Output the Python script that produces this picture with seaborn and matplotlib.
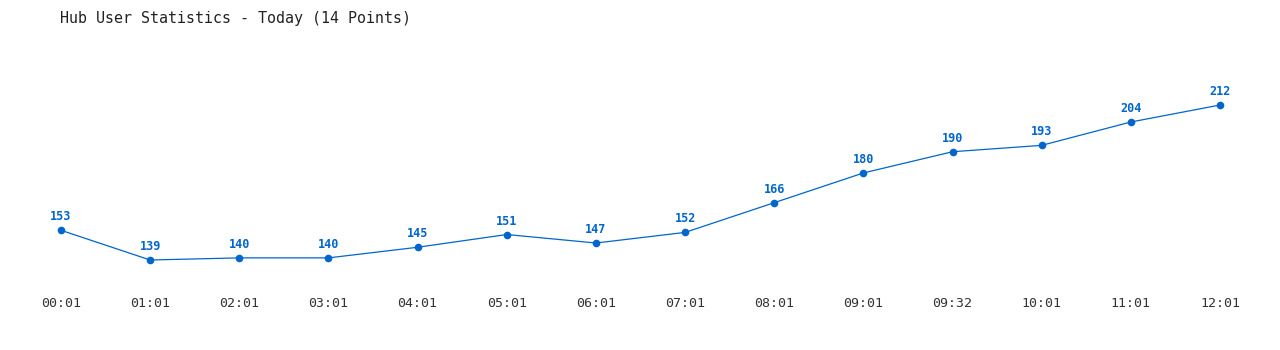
import matplotlib
matplotlib.use("Agg")
import matplotlib.pyplot as plt
import seaborn as sns
import pandas as pd

times = ["00:01", "01:01", "02:01", "03:01", "04:01", "05:01", "06:01",
         "07:01", "08:01", "09:01", "09:32", "10:01", "11:01", "12:01"]
users = [153, 139, 140, 140, 145, 151, 147, 152, 166, 180, 190, 193, 204, 212]
title = "Hub User Statistics - Today (14 Points)"

df = pd.DataFrame({"idx": range(len(times)), "users": users, "time": times})

sns.set_theme(style="white")
plt.rcParams["font.family"] = ["DejaVu Sans Mono"]

W, H = 1280, 350
fig = plt.figure(figsize=(W / 100, H / 100), dpi=100)
top_px, bot_px = 40, 290
ax = fig.add_axes([0, (H - bot_px) / H, 1, (bot_px - top_px) / H])

blue = "#0066cc"
sns.lineplot(data=df, x="idx", y="users", ax=ax, color=blue, linewidth=0.9,
             marker="o", markersize=5.5, markeredgewidth=0, markeredgecolor=blue)

step = 89.15
ax.set_xlim(-61 / step, 13 + 60 / step)
ppu = 2.123
ax.set_ylim(139 - 30 / ppu, 139 + 220 / ppu)

for i, v in enumerate(users):
    ax.annotate(str(v), (i, v), xytext=(0, 5), textcoords="offset points",
                ha="center", va="bottom", color=blue, fontsize=8.5,
                fontweight="bold")

ax.set_xticks(range(len(times)))
ax.set_xticklabels(times, fontsize=9.5, color="#333333")
ax.tick_params(axis="x", length=0, pad=5)
ax.set_yticks([])
ax.set_xlabel("")
ax.set_ylabel("")
for s in ax.spines.values():
    s.set_visible(False)

fig.text(60 / W, 1 - 18 / H, title, ha="left", va="center", fontsize=10.8,
         color="#222222")

fig.savefig("out.png", dpi=100, facecolor="white")
